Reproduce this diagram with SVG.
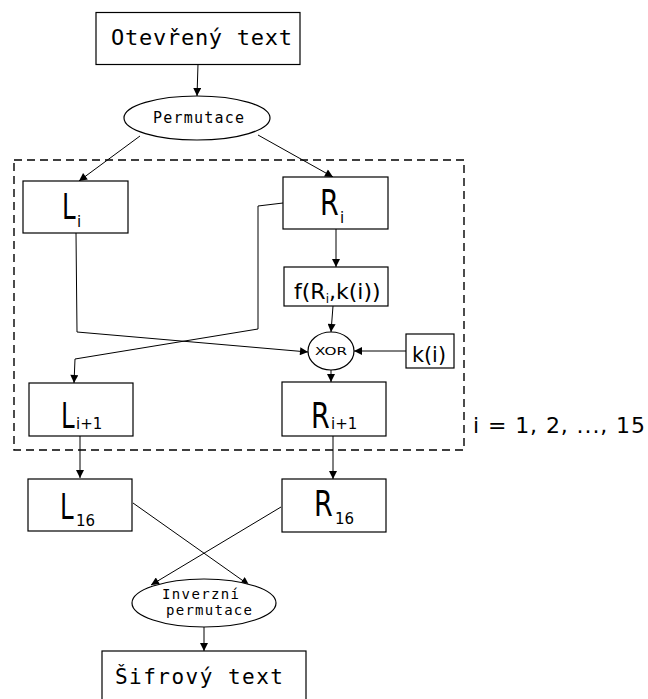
<svg xmlns="http://www.w3.org/2000/svg" width="648" height="699" viewBox="0 0 648 699">
<style>
.box{fill:#fff;stroke:#000;stroke-width:1.2}
.ell{fill:#fff;stroke:#000;stroke-width:1.2}
.con{fill:none;stroke:#000;stroke-width:1}
.mono{font-family:"DejaVu Sans Mono","Liberation Mono",monospace;fill:#000}
.sans{font-family:"DejaVu Sans","Liberation Sans",sans-serif;fill:#000}
.big{font-size:36px}
.sub{font-size:15px}
</style>
<defs>
<marker id="arr" viewBox="0 0 10 10" refX="10" refY="5" markerWidth="9" markerHeight="8" markerUnits="userSpaceOnUse" orient="auto">
<path d="M0,0 L10,5 L0,10 z" fill="#000"/>
</marker>
</defs>
<rect x="14" y="160" width="450" height="290" fill="none" stroke="#000" stroke-width="1.4" stroke-dasharray="8,5"/>
<g id="connectors">
<path class="con" d="M198,64 L197,96" marker-end="url(#arr)"/>
<path class="con" d="M140,136 L79,181" marker-end="url(#arr)"/>
<path class="con" d="M258,135 L333,177" marker-end="url(#arr)"/>
<path class="con" d="M283,203 L258,206 L258,329 L75,359 L74,383" marker-end="url(#arr)"/>
<path class="con" d="M76,233 L77,332 L308,352" marker-end="url(#arr)"/>
<path class="con" d="M336,229 L336,267" marker-end="url(#arr)"/>
<path class="con" d="M333,306 L331,332" marker-end="url(#arr)"/>
<path class="con" d="M406,351 L354,351" marker-end="url(#arr)"/>
<path class="con" d="M331,370 L331,382" marker-end="url(#arr)"/>
<path class="con" d="M80,436 L80,478" marker-end="url(#arr)"/>
<path class="con" d="M333,436 L333,479" marker-end="url(#arr)"/>
<path class="con" d="M133,503 L249,585" marker-end="url(#arr)"/>
<path class="con" d="M281,507 L151,585" marker-end="url(#arr)"/>
<path class="con" d="M204,627 L204,651" marker-end="url(#arr)"/>
</g>
<g id="plaintext">
<rect class="box" x="96" y="12.5" width="204" height="52"/>
<text class="mono" x="111" y="45" font-size="22" textLength="181" lengthAdjust="spacing">Otevřený text</text>
</g>
<g id="permutace">
<ellipse class="ell" cx="197" cy="118" rx="73" ry="22"/>
<text class="mono" x="153" y="123" font-size="15" textLength="91" lengthAdjust="spacing">Permutace</text>
</g>
<g id="Li">
<rect class="box" x="23" y="181" width="105" height="52"/>
<text class="sans big" transform="translate(62,219) scale(0.68,1)">L</text>
<text class="sans sub" x="77" y="227">i</text>
</g>
<g id="Ri">
<rect class="box" x="283" y="177" width="105" height="52"/>
<text class="sans big" transform="translate(320,215) scale(0.75,1)">R</text>
<text class="sans sub" x="340" y="223">i</text>
</g>
<g id="f">
<rect class="box" x="284" y="267" width="104" height="39"/>
<text class="sans" x="294" y="299" font-size="22">f(R<tspan font-size="12" dy="4">i</tspan><tspan dy="-4">,k(i))</tspan></text>
</g>
<g id="xor">
<ellipse class="ell" cx="331" cy="351" rx="23" ry="19"/>
<text class="sans" x="315" y="355" font-size="11" textLength="32" lengthAdjust="spacingAndGlyphs">XOR</text>
</g>
<g id="ki">
<rect class="box" x="406" y="334" width="48" height="34"/>
<text class="sans" x="412" y="362" font-size="21" textLength="34" lengthAdjust="spacingAndGlyphs">k(i)</text>
</g>
<g id="Li1">
<rect class="box" x="29" y="383" width="104" height="53"/>
<text class="sans big" transform="translate(61,428) scale(0.68,1)">L</text>
<text class="sans sub" x="76" y="429">i+1</text>
</g>
<g id="Ri1">
<rect class="box" x="282" y="382" width="104" height="54"/>
<text class="sans big" transform="translate(311,428) scale(0.75,1)">R</text>
<text class="sans sub" x="331" y="429">i+1</text>
</g>
<g id="L16">
<rect class="box" x="28" y="479" width="104" height="52"/>
<text class="sans big" transform="translate(60,519) scale(0.68,1)">L</text>
<text class="sans sub" x="76" y="526">16</text>
</g>
<g id="R16">
<rect class="box" x="282" y="479" width="104" height="53"/>
<text class="sans big" transform="translate(314,516) scale(0.75,1)">R</text>
<text class="sans sub" x="335" y="524">16</text>
</g>
<g id="inverzni">
<ellipse class="ell" cx="204" cy="603" rx="72" ry="24"/>
<text class="mono" x="162" y="599" font-size="14" textLength="77" lengthAdjust="spacing">Inverzní</text>
<text class="mono" x="166" y="615" font-size="14" textLength="86" lengthAdjust="spacing">permutace</text>
</g>
<g id="ciphertext">
<rect class="box" x="102" y="651" width="204" height="60"/>
<text class="mono" x="115" y="684" font-size="21" textLength="168" lengthAdjust="spacing">Šifrový text</text>
</g>
<text class="sans" x="473" y="433" font-size="22" textLength="172" lengthAdjust="spacing">i = 1, 2, ..., 15</text>
</svg>
